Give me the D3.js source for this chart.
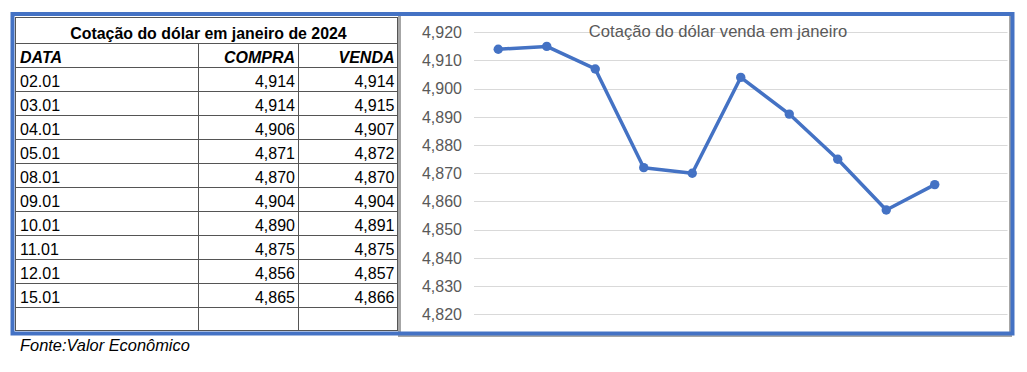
<!DOCTYPE html>
<html>
<head>
<meta charset="utf-8">
<script src="https://cdn.jsdelivr.net/npm/d3@7"></script>
<style>
  body { margin: 0; background: #fff; }
  svg { display: block; font-family: "Liberation Sans", Arial, sans-serif; }
</style>
</head>
<body>
<div id="chart"></div>
<script>
// Table / chart data
const dates = ['02.01', '03.01', '04.01', '05.01', '08.01', '09.01', '10.01', '11.01', '12.01', '15.01'];
const compra = [4.914, 4.914, 4.906, 4.871, 4.870, 4.904, 4.890, 4.875, 4.856, 4.865];
const venda = [4.914, 4.915, 4.907, 4.872, 4.870, 4.904, 4.891, 4.875, 4.857, 4.866];
const headers = ['DATA', 'COMPRA', 'VENDA'];
const yTicks = [4.82, 4.83, 4.84, 4.85, 4.86, 4.87, 4.88, 4.89, 4.90, 4.91, 4.92];
const tableTitle = 'Cotação do dólar em janeiro de 2024';
const chartTitle = 'Cotação do dólar venda em janeiro';
const source = 'Fonte:Valor Econômico';

const ptBR = d3.formatLocale({ decimal: ',', thousands: '.', grouping: [3], currency: ['R$', ''] });
const fmt = ptBR.format('.3f');

const W = 1027, H = 372;
const svg = d3.select('#chart').append('svg').attr('width', W).attr('height', H);

// ---- chart box (Excel chart object) ----
svg.append('rect')
  .attr('x', 399.5).attr('y', 14).attr('width', 611).attr('height', 321.5)
  .attr('fill', '#fff').attr('stroke', '#a6a6a6').attr('stroke-width', 3);

// ---- table ----
const colEdges = [15, 198.5, 298.5, 398];
const titleTop = 17, titleBottom = 43, rowH = 24;
const rows = [headers].concat(dates.map((d, i) => [d, fmt(compra[i]), fmt(venda[i])]), [['', '', '']]);

const table = svg.append('g').attr('class', 'table');
const lineColor = '#555';

// title row
table.append('text')
  .attr('x', 208.5).attr('y', 39)
  .attr('text-anchor', 'middle')
  .attr('font-weight', 'bold').attr('font-size', 15.9)
  .text(tableTitle);

rows.forEach((r, i) => {
  const top = titleBottom + i * rowH;
  r.forEach((v, j) => {
    const t = table.append('text')
      .attr('y', top + 20.3)
      .attr('font-size', 16)
      .attr('fill', '#000')
      .text(v);
    if (j === 0) t.attr('x', colEdges[0] + 5);
    else t.attr('x', colEdges[j + 1] - 3.5).attr('text-anchor', 'end');
    if (i === 0) t.attr('font-weight', 'bold').attr('font-style', 'italic');
  });
  table.append('line')
    .attr('x1', colEdges[0]).attr('x2', colEdges[3])
    .attr('y1', top + 0.5).attr('y2', top + 0.5)
    .attr('stroke', lineColor).attr('stroke-width', 1);
});
const tableBottom = titleBottom + rows.length * rowH;
// vertical lines
colEdges.slice(1, 3).forEach((x) => {
  table.append('line')
    .attr('x1', x).attr('x2', x)
    .attr('y1', titleBottom).attr('y2', tableBottom)
    .attr('stroke', lineColor).attr('stroke-width', 1);
});
table.append('rect')
  .attr('x', colEdges[0] + 0.5).attr('y', titleTop + 0.5)
  .attr('width', colEdges[3] - colEdges[0] - 1).attr('height', tableBottom - titleTop - 1)
  .attr('fill', 'none').attr('stroke', lineColor).attr('stroke-width', 1);

// ---- line chart ----
const x = d3.scaleBand()
  .domain(dates.concat(['']))
  .range([474, 1007.5]);
const y = d3.scaleLinear()
  .domain([yTicks[0], yTicks[yTicks.length - 1]])
  .range([314.3, 32.3]);

const grid = svg.append('g');
grid.selectAll('line')
  .data(yTicks)
  .join('line')
  .attr('x1', x.range()[0]).attr('x2', x.range()[1])
  .attr('y1', (d) => Math.round(y(d)) + 0.5).attr('y2', (d) => Math.round(y(d)) + 0.5)
  .attr('stroke', '#d9d9d9').attr('stroke-width', 1.2);

const yAxis = d3.axisLeft(y)
  .tickValues(yTicks)
  .tickFormat(fmt)
  .tickSize(0)
  .tickPadding(0);
svg.append('g')
  .attr('transform', 'translate(462,0)')
  .call(yAxis)
  .call((g) => g.select('.domain').remove())
  .selectAll('text')
  .attr('font-family', '"Liberation Sans", Arial, sans-serif')
  .attr('font-size', 16)
  .attr('fill', '#595959');

svg.append('text')
  .attr('x', 718).attr('y', 36.5)
  .attr('text-anchor', 'middle')
  .attr('font-size', 16.6)
  .attr('fill', '#595959')
  .text(chartTitle);

const pts = dates.map((d, i) => [x(d) + x.bandwidth() / 2, y(venda[i])]);
svg.append('path')
  .attr('d', d3.line()(pts))
  .attr('fill', 'none')
  .attr('stroke', '#4472C4')
  .attr('stroke-width', 3.5)
  .attr('stroke-linejoin', 'round');
svg.append('g').selectAll('circle')
  .data(pts)
  .join('circle')
  .attr('cx', (d) => d[0]).attr('cy', (d) => d[1])
  .attr('r', 4.7)
  .attr('fill', '#4472C4');

// ---- outer blue frame ----
svg.append('rect')
  .attr('x', 12.5).attr('y', 14).attr('width', 1000).attr('height', 319.5)
  .attr('fill', 'none').attr('stroke', '#4472C4').attr('stroke-width', 4);

// source note
svg.append('text')
  .attr('x', 20).attr('y', 351)
  .attr('font-size', 16.4).attr('font-style', 'italic')
  .text(source);
</script>
</body>
</html>
